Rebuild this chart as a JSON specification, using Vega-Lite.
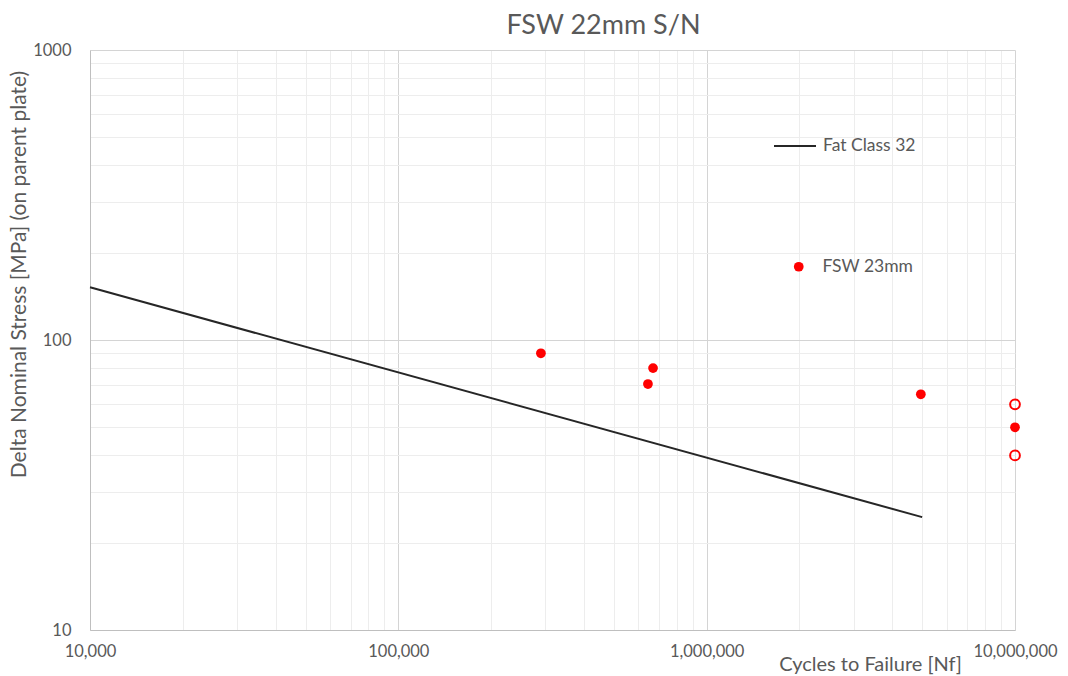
{
  "$schema": "https://vega.github.io/schema/vega-lite/v6.json",
  "width": 925,
  "height": 580,
  "autosize": {"type": "none"},
  "padding": {"left": 90, "top": 50, "right": 53, "bottom": 46},
  "background": "white",
  "config": {
    "view": {"stroke": null},
    "font": "Lato",
    "axis": {"labelFont": "Lato", "titleFont": "Lato"}
  },
  "title": {
    "text": "FSW 22mm S/N",
    "font": "Lato",
    "fontSize": 27,
    "fontWeight": "normal",
    "color": "#595959",
    "anchor": "middle",
    "dx": 51,
    "offset": 2
  },
  "datasets": {
    "fat": [
      {"N": 10000, "S": 152, "series": "Fat Class 32"},
      {"N": 5000000, "S": 24.5, "series": "Fat Class 32"}
    ],
    "fsw": [
      {"N": 290000, "S": 90, "series": "FSW 23mm"},
      {"N": 645000, "S": 70.5, "series": "FSW 23mm"},
      {"N": 670000, "S": 80, "series": "FSW 23mm"},
      {"N": 4950000, "S": 65, "series": "FSW 23mm"},
      {"N": 10000000, "S": 50, "series": "FSW 23mm"}
    ],
    "runout": [
      {"N": 10000000, "S": 60},
      {"N": 10000000, "S": 40}
    ]
  },
  "encoding": {
    "x": {
      "field": "N",
      "type": "quantitative",
      "scale": {"type": "log", "domain": [10000, 10000000], "nice": false, "zero": false},
      "axis": {
        "title": "Cycles to Failure [Nf]",
        "titleX": 780,
        "titleY": 34,
        "titleAlign": "center",
        "titleBaseline": "middle",
        "titleFontSize": 20,
        "titleFontWeight": "normal",
        "titleColor": "#595959",
        "values": [10000, 20000, 30000, 40000, 50000, 60000, 70000, 80000, 90000, 100000, 200000, 300000, 400000, 500000, 600000, 700000, 800000, 900000, 1000000, 2000000, 3000000, 4000000, 5000000, 6000000, 7000000, 8000000, 9000000, 10000000],
        "labelExpr": "abs(log(datum.value)/LN10 - round(log(datum.value)/LN10)) < 0.001 ? format(datum.value, ',') : ''",
        "labelOverlap": false,
        "labelFlush": false,
        "labelFontSize": 16.5,
        "labelColor": "#595959",
        "labelPadding": 13,
        "ticks": false,
        "grid": true,
        "gridColor": {"condition": {"test": "abs(log(datum.value)/LN10 - round(log(datum.value)/LN10)) < 0.001", "value": "#d4d4d4"}, "value": "#ededed"},
        "gridWidth": 1,
        "domainColor": "#bfbfbf",
        "domainWidth": 1
      }
    },
    "y": {
      "field": "S",
      "type": "quantitative",
      "scale": {"type": "log", "domain": [10, 1000], "nice": false, "zero": false},
      "axis": {
        "title": "Delta Nominal Stress [MPa] (on parent plate)",
        "titleX": -71,
        "titleY": 224,
        "titleAngle": 270,
        "titleAlign": "center",
        "titleBaseline": "middle",
        "titleFontSize": 21,
        "titleFontWeight": "normal",
        "titleColor": "#595959",
        "values": [10, 20, 30, 40, 50, 60, 70, 80, 90, 100, 200, 300, 400, 500, 600, 700, 800, 900, 1000],
        "labelExpr": "abs(log(datum.value)/LN10 - round(log(datum.value)/LN10)) < 0.001 ? format(datum.value, 'd') : ''",
        "labelOverlap": false,
        "labelFlush": false,
        "labelFontSize": 16.5,
        "labelColor": "#595959",
        "labelPadding": 19,
        "ticks": false,
        "grid": true,
        "gridColor": {"condition": {"test": "abs(log(datum.value)/LN10 - round(log(datum.value)/LN10)) < 0.001", "value": "#d4d4d4"}, "value": "#ededed"},
        "gridWidth": 1,
        "domainColor": "#bfbfbf",
        "domainWidth": 1
      }
    }
  },
  "layer": [
    {
      "data": {"name": "fat"},
      "mark": {"type": "line", "strokeWidth": 2},
      "encoding": {
        "stroke": {
          "field": "series",
          "type": "nominal",
          "scale": {"domain": ["Fat Class 32"], "range": ["#262626"]},
          "legend": {
            "title": null,
            "orient": "none",
            "legendX": 683,
            "legendY": 74,
            "symbolType": "stroke",
            "symbolSize": 1764,
            "symbolStrokeWidth": 2,
            "labelOffset": 6,
            "labelFontSize": 17.5,
            "labelColor": "#595959",
            "labelFont": "Lato"
          }
        }
      }
    },
    {
      "data": {"name": "fsw"},
      "mark": {"type": "circle", "size": 95, "opacity": 1},
      "encoding": {
        "fill": {
          "field": "series",
          "type": "nominal",
          "scale": {"domain": ["FSW 23mm"], "range": ["#ff0000"]},
          "legend": {
            "title": null,
            "orient": "none",
            "legendX": 700,
            "legendY": 208,
            "symbolType": "circle",
            "symbolSize": 95,
            "symbolStrokeWidth": 0,
            "symbolOpacity": 1,
            "labelOffset": 15,
            "labelFontSize": 17.5,
            "labelColor": "#595959",
            "labelFont": "Lato"
          }
        }
      }
    },
    {
      "data": {"name": "runout"},
      "mark": {"type": "point", "shape": "circle", "filled": false, "size": 95, "strokeWidth": 2, "color": "#ff0000", "opacity": 1},
      "encoding": {}
    }
  ]
}
